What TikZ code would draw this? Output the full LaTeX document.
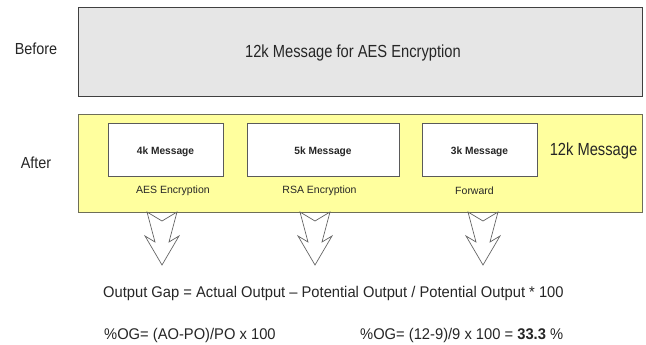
\documentclass[tikz,border=0pt]{standalone}
\usepackage{fontspec}
\setmainfont{Liberation Sans}
\definecolor{greyfill}{HTML}{E6E6E6}
\definecolor{yellowfill}{HTML}{FFFF9E}
\definecolor{yellowline}{HTML}{6E6E58}
\definecolor{boxline}{HTML}{5A5A5A}
\definecolor{arrowline}{HTML}{666666}
\newcommand\sqz[2]{\scalebox{#1}[1]{#2}}
\newcommand\fsz[1]{\fontsize{#1}{#1}\selectfont}
\newcommand\blockarrowat[1]{%
  \draw[blockarrow] ([shift={(-15,0)}]#1) -- ([shift={(0,9)}]#1) -- ([shift={(15,0)}]#1)
    -- ([shift={(7,30)}]#1) -- ([shift={(17,24)}]#1) -- ([shift={(0,53)}]#1)
    -- ([shift={(-17,24)}]#1) -- ([shift={(-7,30)}]#1) -- cycle;}
\begin{document}
\begin{tikzpicture}[x=1pt,y=-1pt,
  box/.style={draw, line width=0.9pt, inner sep=0pt, anchor=north west},
  txt/.style={inner sep=0pt, anchor=base, text=black!85},
  ltxt/.style={inner sep=0pt, anchor=base west, text=black!85},
  blockarrow/.style={draw=arrowline, fill=white, line width=0.7pt, line join=miter}]
\useasboundingbox (0,0) rectangle (646,345);
\fill[white] (0,0) rectangle (646,345);
% boxes
\node[box, draw=black!75, fill=greyfill, minimum width=564pt, minimum height=89pt] (before) at (78,7) {};
\node[box, draw=yellowline, fill=yellowfill, minimum width=564pt, minimum height=98pt] (after) at (78,114) {};
\node[box, draw=boxline, fill=white, minimum width=115pt, minimum height=53pt] (m4) at (108,123) {};
\node[box, draw=boxline, fill=white, minimum width=152pt, minimum height=53pt] (m5) at (247,123) {};
\node[box, draw=boxline, fill=white, minimum width=115pt, minimum height=53pt] (m3) at (422,123) {};
% texts
\node[txt, font=\fsz{16}] (lbefore) at (36,55) {\sqz{0.9}{Before}};
\node[txt, font=\fsz{16}] (lafter) at (36,168.3) {\sqz{0.9}{After}};
\node[txt, font=\fsz{17.5}] (t12) at (353,57.7) {\sqz{0.84}{12k Message for AES Encryption}};
\node[txt, font=\fsz{17.5}] (t12b) at (593.5,155) {\sqz{0.84}{12k Message}};
\node[txt, font=\fsz{10.5}\bfseries] (t4) at (165.5,154.3) {\sqz{0.97}{4k Message}};
\node[txt, font=\fsz{10.5}\bfseries] (t5) at (323,154.3) {\sqz{0.97}{5k Message}};
\node[txt, font=\fsz{10.5}\bfseries] (t3) at (479.5,154.3) {\sqz{0.97}{3k Message}};
\node[txt, font=\fsz{10.5}] (l4) at (173,193) {AES Encryption};
\node[txt, font=\fsz{10.5}] (l5) at (319.5,193) {RSA Encryption};
\node[txt, font=\fsz{10.5}] (l3) at (474.5,194.5) {Forward};
\node[ltxt, font=\fsz{15.5}] (f1) at (103,297.5) {\sqz{0.95}{Output Gap = Actual Output -- Potential Output / Potential Output * 100}};
\node[ltxt, font=\fsz{15.5}] (f2) at (104,339) {\sqz{0.95}{\%OG= (AO-PO)/PO x 100}};
\node[ltxt, font=\fsz{15.5}] (f3) at (360,339) {\sqz{0.95}{\%OG= (12-9)/9 x 100 = \textbf{33.3} \%}};
% block arrows
\coordinate (a1) at (162,212);
\coordinate (a2) at (315,212);
\coordinate (a3) at (483,212);
\blockarrowat{a1}
\blockarrowat{a2}
\blockarrowat{a3}
\end{tikzpicture}
\end{document}
